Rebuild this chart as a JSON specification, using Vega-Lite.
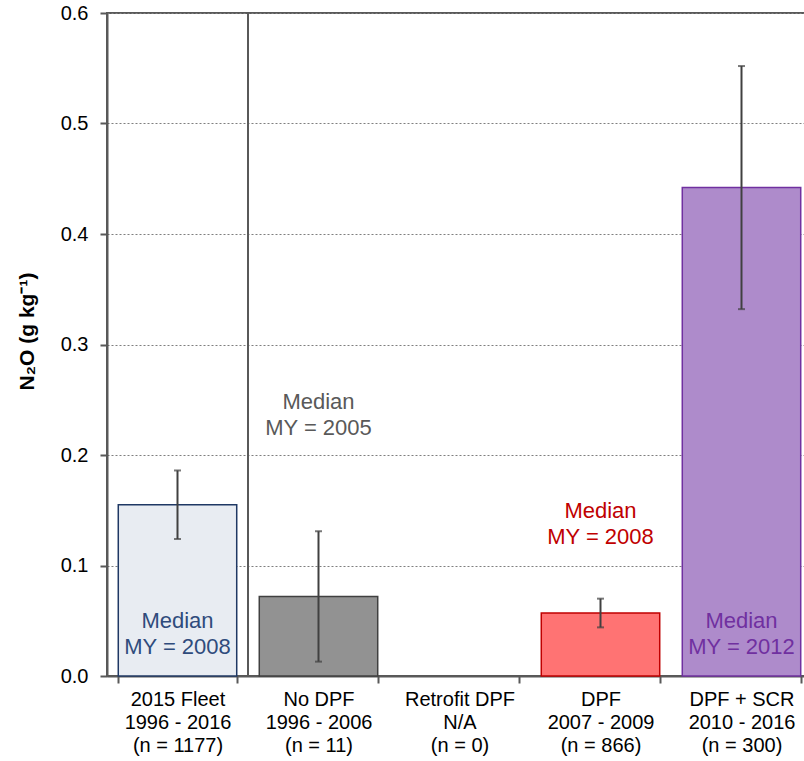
{
  "$schema": "https://vega.github.io/schema/vega-lite/v6.json",
  "width": 705,
  "height": 663,
  "autosize": "none",
  "padding": {"left": 107, "top": 13, "right": 0, "bottom": 85},
  "background": "white",
  "config": {
    "font": "Liberation Sans",
    "view": {"stroke": "#595959", "strokeWidth": 2}
  },
  "datasets": {
    "bars": [
      {"cat": "2015 Fleet|1996 - 2016|(n = 1177)", "value": 0.155, "lo": 0.124, "hi": 0.186},
      {"cat": "No DPF|1996 - 2006|(n = 11)", "value": 0.072, "lo": 0.013, "hi": 0.131},
      {"cat": "DPF|2007 - 2009|(n = 866)", "value": 0.057, "lo": 0.044, "hi": 0.070},
      {"cat": "DPF + SCR|2010 - 2016|(n = 300)", "value": 0.442, "lo": 0.332, "hi": 0.552}
    ],
    "notes": [
      {"cat": "2015 Fleet|1996 - 2016|(n = 1177)", "y": 0.050, "label": "Median|MY = 2008"},
      {"cat": "No DPF|1996 - 2006|(n = 11)", "y": 0.248, "label": "Median|MY = 2005"},
      {"cat": "DPF|2007 - 2009|(n = 866)", "y": 0.149, "label": "Median|MY = 2008"},
      {"cat": "DPF + SCR|2010 - 2016|(n = 300)", "y": 0.050, "label": "Median|MY = 2012"}
    ],
    "sep": [{"cat": "No DPF|1996 - 2006|(n = 11)"}]
  },
  "layer": [
    {
      "data": {"name": "bars"},
      "mark": {"type": "bar", "strokeWidth": 1.5},
      "encoding": {
        "x": {
          "field": "cat", "type": "nominal",
          "scale": {
            "domain": ["2015 Fleet|1996 - 2016|(n = 1177)", "No DPF|1996 - 2006|(n = 11)", "Retrofit DPF|N/A|(n = 0)", "DPF|2007 - 2009|(n = 866)", "DPF + SCR|2010 - 2016|(n = 300)"],
            "paddingInner": 0.16, "paddingOuter": 0.08
          },
          "axis": {
            "title": null, "labelAngle": 0, "labelExpr": "split(datum.label, '|')",
            "labelFontSize": 20, "labelLineHeight": 23, "labelColor": "#000000",
            "labelPadding": 6, "tickSize": 7, "tickBand": "extent",
            "tickColor": "#595959", "tickWidth": 2, "domainColor": "#595959", "domainWidth": 2,
            "labelLimit": 0
          }
        },
        "y": {
          "field": "value", "type": "quantitative",
          "scale": {"domain": [0, 0.6], "nice": false},
          "axis": {
            "title": "N₂O (g kg⁻¹)", "titleFontSize": 21, "titleFontWeight": "bold", "titleColor": "#000000",
            "titleX": -80, "titleY": 318, "titleAlign": "center", "titleBaseline": "middle", "titleAngle": -90,
            "values": [0, 0.1, 0.2, 0.3, 0.4, 0.5, 0.6], "format": ".1f",
            "labelFontSize": 20, "labelColor": "#000000", "labelPadding": 12,
            "tickSize": 7, "tickColor": "#595959", "tickWidth": 2,
            "domainColor": "#595959", "domainWidth": 2,
            "grid": true, "gridColor": "#7f7f7f", "gridDash": [2, 2], "gridWidth": 1
          }
        },
        "fill": {
          "field": "cat", "type": "nominal", "legend": null,
          "scale": {
            "domain": ["2015 Fleet|1996 - 2016|(n = 1177)", "No DPF|1996 - 2006|(n = 11)", "DPF|2007 - 2009|(n = 866)", "DPF + SCR|2010 - 2016|(n = 300)"],
            "range": ["#e8ecf2", "#929292", "#ff7373", "#ae8bcb"]
          }
        },
        "stroke": {
          "field": "cat", "type": "nominal", "legend": null,
          "scale": {
            "domain": ["2015 Fleet|1996 - 2016|(n = 1177)", "No DPF|1996 - 2006|(n = 11)", "DPF|2007 - 2009|(n = 866)", "DPF + SCR|2010 - 2016|(n = 300)"],
            "range": ["#1f3864", "#404040", "#c00000", "#7030a0"]
          }
        }
      }
    },
    {
      "data": {"name": "sep"},
      "mark": {"type": "rule", "color": "#595959", "strokeWidth": 2},
      "encoding": {
        "x": {"field": "cat", "type": "nominal", "bandPosition": -0.0952}
      }
    },
    {
      "data": {"name": "bars"},
      "mark": {"type": "rule", "color": "#404040", "strokeWidth": 2},
      "encoding": {
        "x": {"field": "cat", "type": "nominal"},
        "y": {"field": "lo", "type": "quantitative"},
        "y2": {"field": "hi"}
      }
    },
    {
      "data": {"name": "bars"},
      "mark": {"type": "tick", "color": "#404040", "thickness": 2, "size": 7},
      "encoding": {
        "x": {"field": "cat", "type": "nominal"},
        "y": {"field": "lo", "type": "quantitative"}
      }
    },
    {
      "data": {"name": "bars"},
      "mark": {"type": "tick", "color": "#404040", "thickness": 2, "size": 7},
      "encoding": {
        "x": {"field": "cat", "type": "nominal"},
        "y": {"field": "hi", "type": "quantitative"}
      }
    },
    {
      "data": {"name": "notes"},
      "mark": {"type": "text", "fontSize": 22, "lineHeight": 26, "lineBreak": "|", "align": "center", "baseline": "middle"},
      "encoding": {
        "x": {"field": "cat", "type": "nominal"},
        "y": {"field": "y", "type": "quantitative"},
        "text": {"field": "label"},
        "color": {
          "field": "cat", "type": "nominal", "legend": null,
          "scale": {
            "domain": ["2015 Fleet|1996 - 2016|(n = 1177)", "No DPF|1996 - 2006|(n = 11)", "DPF|2007 - 2009|(n = 866)", "DPF + SCR|2010 - 2016|(n = 300)"],
            "range": ["#2f4b7c", "#595959", "#c00000", "#7030a0"]
          }
        }
      }
    }
  ]
}
